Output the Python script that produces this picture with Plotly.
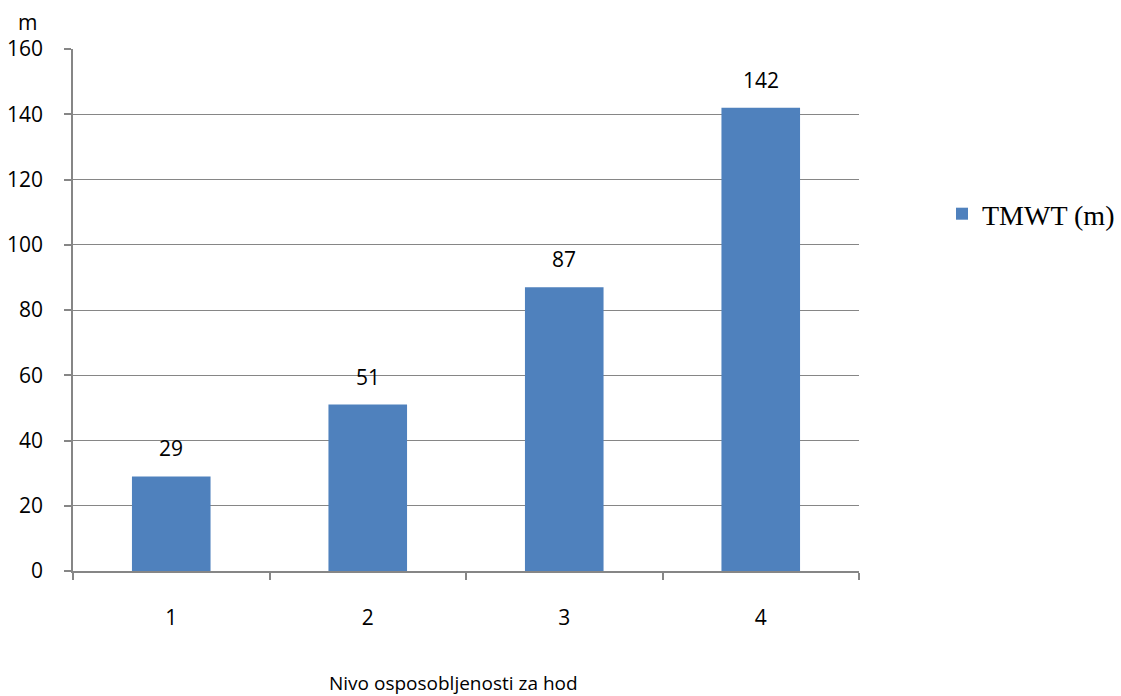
import plotly.graph_objects as go

categories = ["1", "2", "3", "4"]
values = [29, 51, 87, 142]
series_name = "TMWT (m)"
y_ticks = [0, 20, 40, 60, 80, 100, 120, 140, 160]
x_title = "Nivo osposobljenosti za hod"
y_title = "m"

W, H = 1121, 696
L, R, T, B = 73, 262, 49, 125
pw, ph = W - L - R, H - T - B

font_sans = "Open Sans"
grid = "#868686"

fig = go.Figure()
fig.add_trace(go.Bar(
    x=categories, y=values, name=series_name,
    marker=dict(color="#4F81BD", line=dict(width=0)),
    width=0.4, showlegend=True,
))

for i, v in enumerate(values):
    fig.add_annotation(x=i, y=v, text=str(v), showarrow=False,
                       yanchor="bottom", yshift=12,
                       font=dict(family=font_sans, size=21, color="#000"))

fig.add_annotation(xref="paper", yref="paper", x=(453 - L) / pw, y=-(683 - 571) / ph,
                   text=x_title, showarrow=False, xanchor="center", yanchor="middle",
                   font=dict(family=font_sans, size=19, color="#000"))
fig.add_annotation(xref="paper", yref="paper", x=(27 - L) / pw, y=(571 - 22) / ph,
                   text=y_title, showarrow=False, xanchor="center", yanchor="middle",
                   font=dict(family=font_sans, size=21, color="#000"))

fig.update_layout(
    width=W, height=H,
    margin=dict(l=L, r=R, t=T, b=B, pad=0, autoexpand=False),
    paper_bgcolor="white", plot_bgcolor="white",
    legend=dict(x=(942 - L) / pw, y=(571 - 214) / ph, xanchor="left", yanchor="middle",
                font=dict(family="Liberation Serif", size=28, color="#000"),
                itemwidth=30, bgcolor="rgba(0,0,0,0)"),
    xaxis=dict(type="category", range=[-0.5, 3.5], showgrid=False, showline=True,
               linecolor=grid, linewidth=1.5, automargin=False,
               ticks="outside", tickson="boundaries", ticklen=7, tickcolor=grid, tickwidth=1.5,
               tickfont=dict(family=font_sans, size=21, color="#000"),
               ticklabelstandoff=27),
    yaxis=dict(range=[0, 160], tickvals=y_ticks, showgrid=True, gridcolor=grid, gridwidth=1.2,
               showline=True, linecolor=grid, linewidth=1.5, automargin=False,
               ticks="outside", ticklen=7, tickcolor=grid, tickwidth=1.5,
               tickfont=dict(family=font_sans, size=21, color="#000"),
               ticklabelstandoff=17, zeroline=False),
)

fig.write_html("out.html")
